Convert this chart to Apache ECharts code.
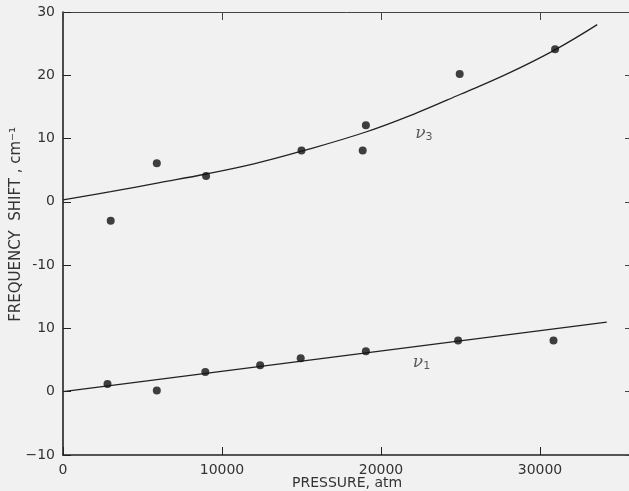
<!DOCTYPE html>
<html>
<head>
<meta charset="utf-8">
<script src="https://cdn.jsdelivr.net/npm/echarts@6/dist/echarts.min.js"></script>
<style>
html,body{margin:0;padding:0;background:#f1f1f1;}
#c{width:629px;height:491px;}
</style>
</head>
<body>
<div id="c"></div>
<script>
// ---- data ----
// internal y axis: lower panel (nu1) uses value directly, upper panel (nu3) is offset by 30
const V3_OFFSET = 30;
const yTickValues = [-10, 0, 10, 20, 30, 40, 50, 60];
const yTickLabels = ['\u221210', '0', '10', '-10', '0', '10', '20', '30'];
const xTickValues = [0, 10000, 20000, 30000];
const xTickLabels = ['0', '10000', '20000', '30000'];

// nu3 measured points (pressure atm, shift cm-1)
const nu3Pressure = [3000, 5900, 9000, 15000, 18850, 19050, 24950, 30950];
const nu3Shift    = [-3.0, 6.1, 4.1, 8.1, 8.1, 12.1, 20.2, 24.1];
// nu3 fitted curve
const nu3CurveP = [0, 3000, 6000, 9000, 12000, 15000, 19000, 22000, 25000, 28000, 31000, 33600];
const nu3CurveS = [0.3, 1.6, 3.0, 4.4, 6.0, 8.0, 11.0, 13.8, 17.0, 20.3, 24.1, 28.0];

// nu1 measured points
const nu1Pressure = [2800, 5900, 8950, 12400, 14950, 19050, 24850, 30850];
const nu1Shift    = [1.2, 0.2, 3.1, 4.2, 5.3, 6.4, 8.1, 8.1];
// nu1 fitted line
const nu1LineP = [0, 34200];
const nu1LineS = [0.0, 11.0];

// ---- build ----
const labelMap = {};
yTickValues.forEach((v, i) => labelMap[v] = yTickLabels[i]);
const zip = (a, b, off) => a.map((x, i) => [x, b[i] + (off || 0)]);

const axisCol = '#222';
const txtCol = '#333';
const chart = echarts.init(document.getElementById('c'));
chart.setOption({
  backgroundColor: '#f1f1f1',
  animation: false,
  grid: {left: 63, top: 12, width: 570, height: 443, outerBoundsMode: 'none', containLabel: false},
  xAxis: [{
    type: 'value', min: 0, max: 35850, interval: 10000,
    axisLine: {onZero: false, lineStyle: {color: axisCol, width: 1.6}},
    axisTick: {inside: true, length: 8, lineStyle: {color: axisCol, width: 1}},
    splitLine: {show: false},
    axisLabel: {showMaxLabel: false, margin: 8, color: txtCol, fontFamily: 'DejaVu Sans', fontSize: 14,
      formatter: v => { const i = xTickValues.indexOf(v); return i >= 0 ? xTickLabels[i] : ''; }}
  }, {
    type: 'value', position: 'top', min: 0, max: 35850, interval: 10000,
    axisLine: {show: true, onZero: false, lineStyle: {color: '#444', width: 1}},
    axisTick: {inside: true, length: 8, lineStyle: {color: '#444', width: 1}},
    axisLabel: {show: false}, splitLine: {show: false}
  }],
  yAxis: [{
    type: 'value', min: -10, max: 60, interval: 10,
    axisLine: {show: true, onZero: false, lineStyle: {color: axisCol, width: 1.6}},
    axisTick: {inside: true, length: 8, lineStyle: {color: axisCol, width: 1}},
    splitLine: {show: false},
    axisLabel: {margin: 8, color: txtCol, fontFamily: 'DejaVu Sans', fontSize: 14,
      formatter: v => labelMap[v] !== undefined ? labelMap[v] : ''}
  }, {
    type: 'value', position: 'right', min: -10, max: 60, interval: 10,
    axisLine: {show: true, onZero: false, lineStyle: {color: '#444', width: 1}},
    axisTick: {inside: true, length: 8, lineStyle: {color: '#444', width: 1}},
    axisLabel: {show: false}, splitLine: {show: false}
  }],
  graphic: [{
    type: 'text', left: 9, top: 127,
    rotation: Math.PI / 2,
    originX: 0, originY: 0,
    style: {text: 'FREQUENCY  SHIFT , cm\u207B\u00B9', fill: txtCol, font: '15px "DejaVu Sans"'}
  }, {
    type: 'text', left: 292, top: 476,
    style: {text: 'PRESSURE, atm', fill: txtCol, font: '14px "DejaVu Sans"'}
  }],
  series: [
    {type: 'line', data: zip(nu3CurveP, nu3CurveS, V3_OFFSET), smooth: 0.4, symbol: 'none',
      lineStyle: {color: '#222', width: 1.3}, z: 2},
    {type: 'line', data: zip(nu1LineP, nu1LineS, 0), symbol: 'none',
      lineStyle: {color: '#222', width: 1.3}, z: 2},
    {type: 'scatter', data: zip(nu3Pressure, nu3Shift, V3_OFFSET), symbolSize: 8,
      itemStyle: {color: '#111'}, z: 3},
    {type: 'scatter', data: zip(nu1Pressure, nu1Shift, 0), symbolSize: 8,
      itemStyle: {color: '#111'}, z: 3},
    {type: 'scatter', symbolSize: 0, silent: true,
      data: [{value: [22700, 10.8 + V3_OFFSET], name: '3'}, {value: [22550, 4.6], name: '1'}],
      label: {show: true, position: 'inside',
        formatter: p => '{n|\u03BD}{s|' + p.name + '}',
        rich: {
          n: {fontFamily: 'DejaVu Serif', fontStyle: 'italic', fontSize: 17, color: '#333'},
          s: {fontFamily: 'DejaVu Sans', fontSize: 11, color: '#333', verticalAlign: 'bottom', padding: [8, 0, 0, 0]}
        }}}
  ]
});
</script>
</body>
</html>
